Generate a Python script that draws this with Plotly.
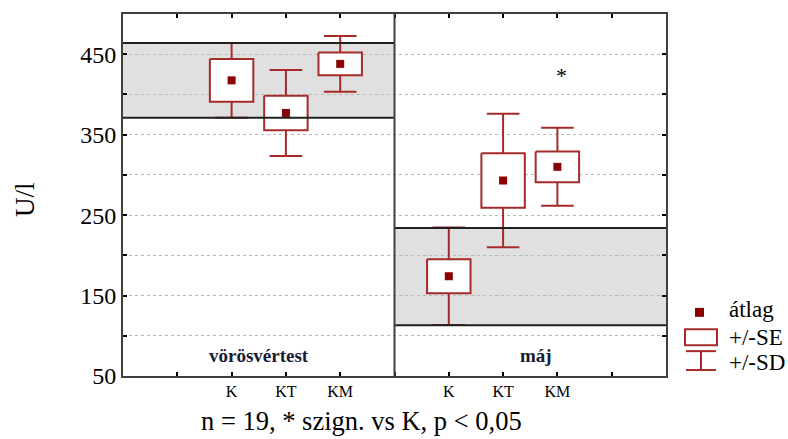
import plotly.graph_objects as go

# ---- data ----
categories = ["K", "KT", "KM"]
groups = ["vörösvértest", "máj"]
group_offsets = [2, 6]          # first category position in each panel

mean_vvt = [417.5, 377, 438]
se_vvt = [26.5, 21.5, 14]
sd_vvt = [46.5, 53.5, 34.5]

mean_maj = [174, 293, 310]
se_maj = [21, 34, 19]
sd_maj = [60.5, 83, 48.5]

ref_vvt = [371, 464]
ref_maj = [113, 234]

signif_maj = ["", "", "*"]
signif_y = 424

y_tickvals = [50, 100, 150, 200, 250, 300, 350, 400, 450]
y_ticktext = ["50", "", "150", "", "250", "", "350", "", "450"]
x_tickvals = list(range(0, 11))
x_ticktext = ["", "", "K", "KT", "KM", "", "K", "KT", "KM", "", ""]

means = [mean_vvt, mean_maj]
ses = [se_vvt, se_maj]
sds = [sd_vvt, sd_maj]
refs = [ref_vvt, ref_maj]

# ---- style ----
LINE = "#a52a2a"
MARK = "#8b0000"
FRAME = "#404040"
BAND = "#e0e0e0"
FONT = "Liberation Serif"
BOX_HW = 0.40
CAP_HW = 0.30

fig = go.Figure()

for g, off in enumerate(group_offsets):
    for i, cat in enumerate(categories):
        x = off + i
        m, se, sd = means[g][i], ses[g][i], sds[g][i]
        # whisker (SD)
        fig.add_trace(go.Scatter(
            x=[x - CAP_HW, x + CAP_HW, None, x, x, None, x - CAP_HW, x + CAP_HW],
            y=[m + sd, m + sd, None, m + sd, m - sd, None, m - sd, m - sd],
            mode="lines", line=dict(color=LINE, width=2),
            showlegend=False, hoverinfo="skip"))
        # box (SE)
        fig.add_trace(go.Scatter(
            x=[x - BOX_HW, x + BOX_HW, x + BOX_HW, x - BOX_HW, x - BOX_HW],
            y=[m + se, m + se, m - se, m - se, m + se],
            mode="lines", fill="toself", fillcolor="white",
            line=dict(color=LINE, width=2),
            showlegend=False, hoverinfo="skip"))
        # mean
        fig.add_trace(go.Scatter(
            x=[x], y=[m], mode="markers",
            marker=dict(symbol="square", size=8, color=MARK, line=dict(width=0)),
            showlegend=False, name=cat))

# significance marks
for i, s in enumerate(signif_maj):
    if s:
        fig.add_annotation(x=group_offsets[1] + i, y=signif_y, text=s, xshift=4,
                           showarrow=False, font=dict(family=FONT, size=22, color="black"))

shapes = []
for g, off in enumerate(group_offsets):
    x0 = off - 2 if g == 0 else 5
    x1 = 5 if g == 0 else 10
    lo, hi = refs[g]
    shapes.append(dict(type="rect", xref="x", yref="y", x0=x0, x1=x1, y0=lo, y1=hi,
                       fillcolor=BAND, line=dict(width=0), layer="below"))
    for yy in (lo, hi):
        shapes.append(dict(type="line", xref="x", yref="y", x0=x0, x1=x1, y0=yy, y1=yy,
                           line=dict(color="#202020", width=2), layer="above"))
# panel divider
shapes.append(dict(type="line", xref="x", yref="paper", x0=5, x1=5, y0=0, y1=1,
                   line=dict(color=FRAME, width=2), layer="above"))

# panel labels
fig.add_annotation(x=2.5, y=75, text="<b>vörösvértest</b>", showarrow=False,
                   font=dict(family=FONT, size=19, color="#1a1a30"))
fig.add_annotation(x=7.6, y=75, text="<b>máj</b>", showarrow=False,
                   font=dict(family=FONT, size=19, color="#1a1a30"))

# ---- custom legend (pixel -> paper) ----
L, T, PW, PH = 123, 12, 543, 364
def px(xp):
    return (xp - L) / PW
def py(yp):
    return (T + PH - yp) / PH

shapes.append(dict(type="rect", xref="paper", yref="paper",
                   x0=px(695), x1=px(704), y0=py(316.5), y1=py(307.5),
                   fillcolor=MARK, line=dict(width=0)))
shapes.append(dict(type="rect", xref="paper", yref="paper",
                   x0=px(685), x1=px(717), y0=py(345), y1=py(329),
                   fillcolor="white", line=dict(color=LINE, width=2)))
for yy in (351, 370):
    shapes.append(dict(type="line", xref="paper", yref="paper",
                       x0=px(686), x1=px(716), y0=py(yy), y1=py(yy),
                       line=dict(color=LINE, width=2)))
shapes.append(dict(type="line", xref="paper", yref="paper",
                   x0=px(701), x1=px(701), y0=py(351), y1=py(370),
                   line=dict(color=LINE, width=2)))
for txt, yy in (("átlag", 309), ("+/-SE", 337), ("+/-SD", 362)):
    fig.add_annotation(xref="paper", yref="paper", x=px(727), y=py(yy), text=txt,
                       showarrow=False, xanchor="left", yanchor="middle",
                       font=dict(family=FONT, size=23, color="black"))

# axis titles
fig.add_annotation(xref="paper", yref="paper", x=px(361), y=py(421),
                   text="n = 19, * szign. vs K, p < 0,05", showarrow=False,
                   xanchor="center", yanchor="middle",
                   font=dict(family=FONT, size=26.5, color="black"))
fig.add_annotation(xref="paper", yref="paper", x=px(25), y=py(199),
                   text="U/l", showarrow=False, textangle=-90,
                   xanchor="center", yanchor="middle",
                   font=dict(family=FONT, size=27, color="black"))

fig.update_layout(
    width=788, height=439,
    margin=dict(l=123, r=122, t=12, b=63),
    paper_bgcolor="white", plot_bgcolor="white",
    shapes=shapes, showlegend=False,
    xaxis=dict(range=[0, 10], tickvals=x_tickvals, ticktext=x_ticktext,
               ticks="inside", ticklen=4, tickwidth=1.5, tickcolor="black",
               showgrid=False, zeroline=False, showline=True, linecolor=FRAME,
               linewidth=2, mirror="ticks",
               tickfont=dict(family=FONT, size=16, color="black")),
    yaxis=dict(range=[50, 500], tickvals=y_tickvals, ticktext=y_ticktext,
               ticks="inside", ticklen=4, tickwidth=1.5, tickcolor="black",
               showgrid=True, gridcolor="#b8b8b8", griddash="dot", gridwidth=1,
               zeroline=False, showline=True, linecolor=FRAME, linewidth=2,
               mirror="ticks",
               tickfont=dict(family=FONT, size=24, color="black")),
)

fig.write_html("out.html", config={"displayModeBar": False},
               post_script="document.body.style.margin='0';document.body.style.overflow='hidden';")
